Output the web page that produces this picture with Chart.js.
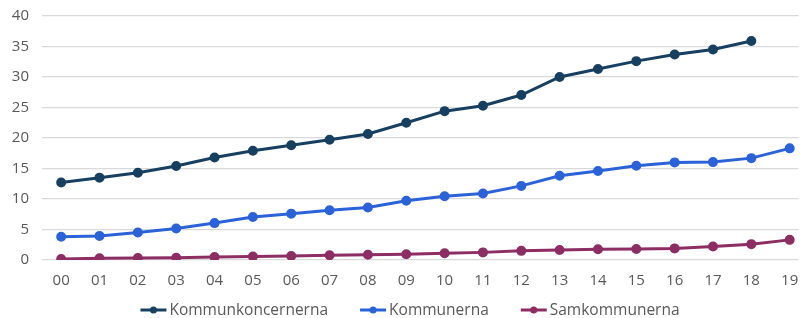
<!DOCTYPE html>
<html>
<head>
<meta charset="utf-8">
<script src="https://cdn.jsdelivr.net/npm/chart.js@4"></script>
<style>
  html, body { margin: 0; padding: 0; background: #fff; }
  #wrap { width: 805px; height: 318px; }
</style>
</head>
<body>
<div id="wrap"><canvas id="chart" width="805" height="318"></canvas></div>
<script>
const years = ['00','01','02','03','04','05','06','07','08','09','10','11','12','13','14','15','16','17','18','19'];
const kommunkoncernerna = [12.7, 13.5, 14.3, 15.4, 16.8, 17.9, 18.8, 19.7, 20.65, 22.5, 24.4, 25.3, 27.05, 30.0, 31.3, 32.6, 33.7, 34.5, 35.9, null];
const kommunerna = [3.8, 3.95, 4.5, 5.15, 6.05, 7.05, 7.6, 8.15, 8.6, 9.7, 10.45, 10.9, 12.15, 13.8, 14.6, 15.45, 16.0, 16.05, 16.7, 18.3];
const samkommunerna = [0.15, 0.27, 0.32, 0.38, 0.48, 0.56, 0.66, 0.77, 0.87, 0.95, 1.1, 1.25, 1.5, 1.65, 1.75, 1.8, 1.9, 2.2, 2.6, 3.3];
const yTicks = [0, 5, 10, 15, 20, 25, 30, 35, 40];

const FONT = '"Open Sans", Roboto, sans-serif';
const TEXT = '#595959';

function series(label, values, color) {
  return {
    label,
    data: values.map((v, i) => ({ x: i, y: v })),
    borderColor: color,
    backgroundColor: color,
    borderWidth: 3,
    pointRadius: 3.5,
    pointHoverRadius: 3.5,
    tension: 0
  };
}

// legend: line with a dot, then the label, centered under the plot
const lineLegend = {
  id: 'lineLegend',
  afterDraw(chart) {
    const ctx = chart.ctx;
    const sets = chart.data.datasets;
    ctx.save();
    ctx.font = '15.5px ' + FONT;
    const lineLen = 26, gap = 3, spacing = 32;
    const widths = sets.map(d => lineLen + gap + ctx.measureText(d.label).width);
    const total = widths.reduce((a, b) => a + b, 0) + spacing * (sets.length - 1);
    let x = 410 - total / 2;
    const y = 310;
    sets.forEach((d, i) => {
      ctx.strokeStyle = d.borderColor;
      ctx.fillStyle = d.borderColor;
      ctx.lineWidth = 3;
      ctx.beginPath();
      ctx.moveTo(x, y);
      ctx.lineTo(x + lineLen, y);
      ctx.stroke();
      ctx.beginPath();
      ctx.arc(x + lineLen / 2, y, 3.5, 0, Math.PI * 2);
      ctx.fill();
      ctx.fillStyle = TEXT;
      ctx.textBaseline = 'middle';
      ctx.textAlign = 'left';
      ctx.fillText(d.label, x + lineLen + gap, y + 1);
      x += widths[i] + spacing;
    });
    ctx.restore();
  }
};

new Chart(document.getElementById('chart'), {
  type: 'line',
  data: {
    datasets: [
      series('Kommunkoncernerna', kommunkoncernerna, '#173f5f'),
      series('Kommunerna', kommunerna, '#2b62d8'),
      series('Samkommunerna', samkommunerna, '#8c2d63')
    ]
  },
  options: {
    responsive: false,
    animation: false,
    layout: { padding: { top: 16, right: 0, bottom: 26, left: 0 } },
    plugins: {
      legend: { display: false },
      tooltip: { enabled: false }
    },
    scales: {
      x: {
        type: 'linear',
        min: -0.5,
        max: 19.23,
        grid: { display: false },
        border: { display: false },
        afterBuildTicks: s => { s.ticks = years.map((_, i) => ({ value: i })); },
        afterFit: s => { s.height = 32; s.paddingLeft = 0; s.paddingRight = 0; },
        ticks: {
          autoSkip: false,
          maxRotation: 0,
          padding: 4,
          color: TEXT,
          font: { family: FONT, size: 15 },
          callback: v => years[v]
        }
      },
      y: {
        min: 0,
        max: 40,
        afterBuildTicks: s => { s.ticks = yTicks.map(v => ({ value: v })); },
        afterFit: s => { s.width = 42; s.paddingTop = 0; s.paddingBottom = 0; },
        grid: { color: '#d9d9d9', lineWidth: 1.3, drawTicks: false },
        border: { display: false },
        ticks: {
          padding: 13,
          color: TEXT,
          font: { family: FONT, size: 15 }
        }
      }
    }
  },
  plugins: [lineLegend]
});
</script>
</body>
</html>
